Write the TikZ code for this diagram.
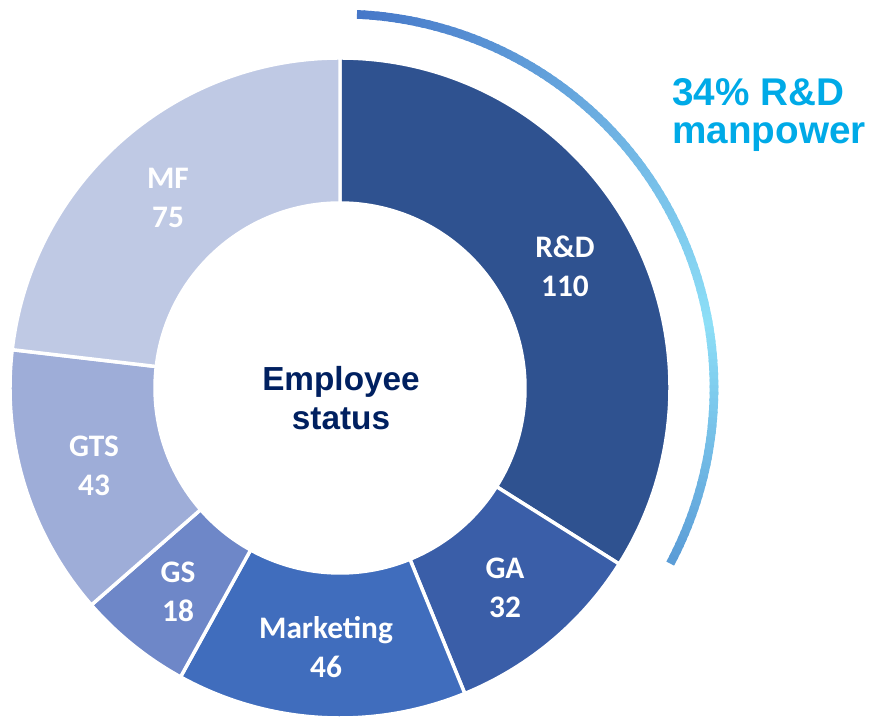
\documentclass[tikz,border=0pt]{standalone}
\usepackage{fontspec}
\newfontfamily\lblfont{Carlito}
\newfontfamily\headfont{Liberation Sans}
\definecolor{cRD}{HTML}{2F5290}
\definecolor{cGA}{HTML}{3A5EA8}
\definecolor{cMK}{HTML}{406DBD}
\definecolor{cGS}{HTML}{6E87C8}
\definecolor{cGTS}{HTML}{9EADD8}
\definecolor{cMF}{HTML}{BFC9E4}
\definecolor{navy}{HTML}{002060}
\definecolor{cyantxt}{HTML}{00AAE7}
\definecolor{arcA}{HTML}{4677C8}
\definecolor{arcB}{HTML}{8DDFF7}
\definecolor{arcC}{HTML}{5A9BD6}
\tikzset{
  seg/.style={draw=white, line width=2.6pt, line join=round},
  seglabel/.style={text=white, align=center, font=\lblfont\bfseries\fontsize{23.5}{29}\selectfont},
}
\begin{document}
\begin{tikzpicture}[x=0.75pt, y=0.75pt]
	\useasboundingbox (-340,-330) rectangle (531,388);
	% ring pieces
	\foreach \s/\e/\c in {90/-32.222/cRD, -32.222/-67.778/cGA, -67.778/-118.889/cMK,
		-118.889/-138.889/cGS, -138.889/-186.667/cGTS, -186.667/-270/cMF}{
		\filldraw[seg, fill=\c] (\s:330) arc[start angle=\s, end angle=\e, radius=330]
			-- (\e:185) arc[start angle=\e, end angle=\s, radius=185] -- cycle;
	}
	\node[seglabel] (rd) at (225,122) {R\&D\\110};
	\node[seglabel] (ga) at (165,-200) {GA\\32};
	\node[seglabel] (mk) at (-14,-259) {Marketing\\46};
	\node[seglabel] (gs) at (-162,-204) {GS\\18};
	\node[seglabel] (gts) at (-246,-78) {GTS\\43};
	\node[seglabel] (mf) at (-172,190) {MF\\75};
	\node[text=navy, align=center, font=\headfont\bfseries\fontsize{25}{29}\selectfont] (emp) at (1,-10) {Employee\\status};
	% outer arc
	\foreach \a in {87,86,...,-27}{
		\pgfmathsetmacro\p{\a>10 ? (\a-10)/77*100 : (\a+28)/38*100}
		\ifdim\a pt>10pt \colorlet{arcc}{arcA!\p!arcB}\else\colorlet{arcc}{arcB!\p!arcC}\fi
		\draw[arcc, line width=6.5pt] (\a+0.4:374) arc[start angle=\a+0.4, end angle=\a-1, radius=374];
	}
	\node[text=cyantxt, anchor=west, align=left, inner sep=0pt, font=\headfont\bfseries\fontsize{29}{28}\selectfont] (pct) at (332,273) {34\% R\&D\\manpower};
\end{tikzpicture}
\end{document}
